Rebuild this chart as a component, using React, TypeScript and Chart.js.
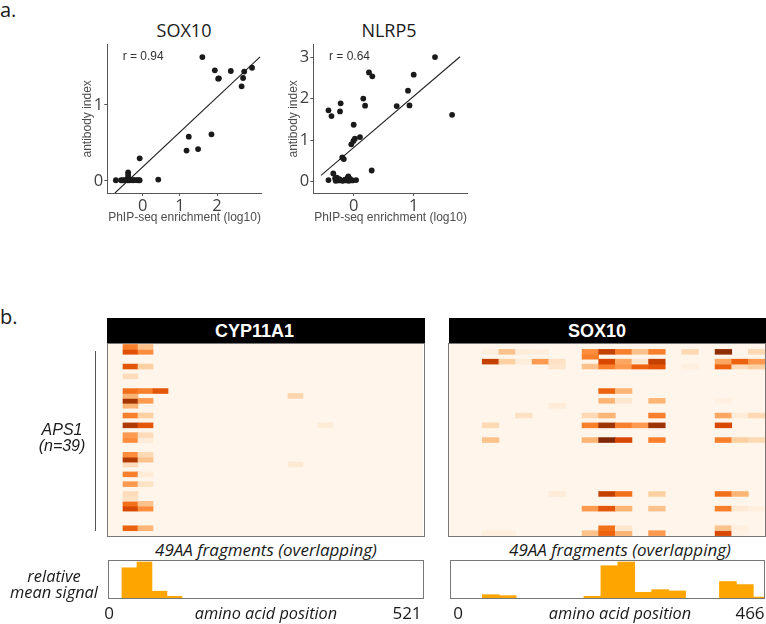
import React, { useEffect, useRef } from "react";
import { Chart, registerables } from "chart.js";

Chart.register(...registerables);

// ---------- scatter data ----------
const sox10Points: number[][] = [
  [1.605, 1.63], [1.94, 1.456], [2.37, 1.447], [2.73, 1.44], [2.94, 1.49], [2.7, 1.355],
  [2.03, 1.346], [2.05, 1.35], [2.66, 1.245], [1.24, 0.583], [1.85, 0.614], [1.18, 0.4],
  [1.49, 0.42], [-0.08, 0.298], [0.42, 0.018], [-0.39, 0.114], [-0.39, 0.08], [-0.39, 0.044],
  [-0.72, 0.01], [-0.58, 0.01], [-0.53, 0.01], [-0.48, 0.01], [-0.44, 0.012], [-0.4, 0.01],
  [-0.38, 0.012], [-0.35, 0.01], [-0.3, 0.012], [-0.26, 0.01], [-0.22, 0.012], [-0.16, 0.012],
  [-0.12, 0.01], [-0.08, 0.01],
];
const sox10Fit: number[][] = [[-0.744, -0.158], [3.157, 1.632]];
const nlrp5Points: number[][] = [
  [1.355, 3.0], [1.0, 2.575], [0.255, 2.63], [0.31, 2.535], [0.905, 2.19], [0.16, 2.0],
  [-0.217, 1.885], [0.19, 1.83], [0.717, 1.82], [0.93, 1.835], [-0.42, 1.717], [-0.228, 1.69],
  [-0.37, 1.58], [1.64, 1.61], [0.0, 1.37], [0.105, 1.075], [0.02, 1.035], [-0.005, 0.98],
  [-0.04, 0.9], [-0.19, 0.585], [-0.165, 0.545], [0.3, 0.27], [-0.42, 0.04], [-0.34, 0.2],
  [-0.31, 0.08], [-0.26, 0.03], [-0.21, 0.03], [-0.145, 0.05], [-0.09, 0.13], [-0.06, 0.07],
  [-0.02, 0.03], [0.04, 0.04], [-0.3, 0.02], [-0.28, 0.1], [-0.24, 0.06], [-0.18, 0.02],
  [-0.12, 0.03], [-0.1, 0.09], [-0.08, 0.02],
];
const nlrp5Fit: number[][] = [[-0.544, 0.152], [1.772, 3.008]];
const sox10XTicks = [0, 1, 2];
const sox10YTicks = [0, 1];
const nlrp5XTicks = [0, 1];
const nlrp5YTicks = [0, 1, 2, 3];

// ---------- heat map data: [row, fragment, signal] ----------
const heatRows = 39;
const cypColumns = 21;
const soxColumns = 19;
const cypCells: number[][] = [
  [0, 1, 0.55], [0, 2, 0.3], [1, 1, 0.72], [1, 2, 0.5], [4, 1, 0.7], [4, 2, 0.25], [6, 1, 0.18],
  [9, 1, 0.6], [9, 2, 0.55], [9, 3, 0.7], [10, 1, 0.35], [10, 12, 0.22], [11, 1, 0.88], [11, 2, 0.45],
  [12, 1, 0.35], [14, 1, 0.55], [14, 2, 0.25], [16, 1, 0.85], [16, 2, 0.7], [16, 14, 0.08],
  [18, 1, 0.45], [18, 2, 0.18], [19, 1, 0.5], [19, 2, 0.08], [22, 1, 0.5], [22, 2, 0.2],
  [23, 1, 0.85], [23, 2, 0.3], [24, 1, 0.18], [24, 12, 0.1], [26, 1, 0.55], [26, 2, 0.08],
  [28, 1, 0.45], [28, 2, 0.15], [30, 1, 0.18], [31, 1, 0.15], [32, 1, 0.6], [32, 2, 0.3],
  [33, 1, 0.75], [33, 2, 0.5], [37, 1, 0.65], [37, 2, 0.35],
];
const soxCells: number[][] = [
  [1, 2, 0.05], [1, 3, 0.3], [1, 4, 0.07], [1, 5, 0.06], [1, 8, 0.5], [1, 9, 0.8], [1, 10, 0.55],
  [1, 11, 0.3], [1, 12, 0.55], [1, 14, 0.2], [1, 16, 0.95], [1, 18, 0.2], [2, 8, 0.55],
  [3, 2, 0.8], [3, 3, 0.25], [3, 4, 0.07], [3, 5, 0.45], [3, 6, 0.15], [3, 9, 0.75], [3, 10, 0.4],
  [3, 11, 0.12], [3, 12, 0.8], [3, 16, 0.4], [3, 17, 0.65], [3, 18, 0.45], [4, 6, 0.13], [4, 8, 0.3],
  [4, 9, 0.55], [4, 10, 0.45], [4, 11, 0.65], [4, 12, 0.7], [4, 14, 0.05], [4, 16, 0.65], [4, 17, 0.18],
  [4, 18, 0.25], [9, 9, 0.65], [9, 10, 0.35], [11, 9, 0.35], [11, 10, 0.12], [11, 12, 0.35], [11, 16, 0.04],
  [12, 6, 0.08], [14, 4, 0.15], [14, 8, 0.2], [14, 9, 0.35], [14, 12, 0.55], [14, 16, 0.4], [14, 17, 0.08],
  [14, 18, 0.2], [16, 2, 0.2], [16, 8, 0.55], [16, 9, 0.9], [16, 10, 0.55], [16, 11, 0.45], [16, 12, 0.9],
  [16, 16, 0.75], [19, 2, 0.3], [19, 8, 0.35], [19, 9, 1.0], [19, 10, 0.75], [19, 12, 0.55], [19, 16, 0.55],
  [19, 17, 0.25], [19, 18, 0.2], [30, 6, 0.08], [30, 9, 0.8], [30, 10, 0.6], [30, 12, 0.25], [30, 16, 0.6],
  [30, 17, 0.35], [33, 8, 0.45], [33, 9, 0.7], [33, 10, 0.35], [33, 12, 0.3], [33, 16, 0.55], [33, 17, 0.1],
  [33, 18, 0.05], [37, 9, 0.6], [37, 10, 0.12], [37, 16, 0.3], [37, 17, 0.05], [38, 2, 0.05], [38, 3, 0.05],
  [38, 8, 0.3], [38, 9, 0.65], [38, 10, 0.35], [38, 12, 0.45], [38, 16, 0.75], [38, 17, 0.03],
];

// ---------- mean signal data ----------
const cypMeanSignal = [0, 0.8, 0.948, 0.2, 0.07, 0, 0, 0, 0, 0, 0, 0, 0, 0, 0, 0, 0, 0, 0, 0, 0];
const soxMeanSignal = [0, 0, 0.11, 0.086, 0.01, 0.01, 0.01, 0.01, 0.07, 0.853, 0.948, 0.172, 0.24, 0.207, 0, 0, 0.448, 0.37, 0.05];

const orangesPalette = ["#fff5eb", "#fee6ce", "#fdd0a2", "#fdae6b", "#fd8d3c", "#f16913", "#d94801", "#a63603", "#7f2704"];

function orangeFor(value: number): string {
  const t = Math.min(1, Math.max(0, value)) * (orangesPalette.length - 1);
  const i = Math.min(orangesPalette.length - 2, Math.floor(t));
  const f = t - i;
  const rgb = (hex: string) => [1, 3, 5].map((p) => parseInt(hex.slice(p, p + 2), 16));
  const a = rgb(orangesPalette[i]);
  const b = rgb(orangesPalette[i + 1]);
  return `rgb(${a.map((v, k) => Math.round(v + (b[k] - v) * f)).join(",")})`;
}

const MYRIAD = '"Open Sans", sans-serif';
const HELV = '"Liberation Sans", Arial, sans-serif';

function ChartBox({ left, top, width, height, make }: { left: number; top: number; width: number; height: number; make: () => any }) {
  const ref = useRef<HTMLCanvasElement>(null);
  useEffect(() => {
    const chart = new Chart(ref.current!, make());
    return () => chart.destroy();
  }, []);
  return <canvas ref={ref} width={width} height={height} style={{ position: "absolute", left, top, width, height, display: "block" }} />;
}

function Label({ text, x, y, size, font = MYRIAD, italic, bold, color = "#1a1a1a", align = "center" }: any) {
  const tx = align === "center" ? "-50%" : align === "right" ? "-100%" : "0";
  return (
    <div style={{ position: "absolute", left: x, top: y, transform: `translate(${tx}, -50%)`, fontFamily: font, fontSize: size, fontStyle: italic ? "italic" : "normal", fontWeight: bold ? 700 : 400, color, whiteSpace: "nowrap", lineHeight: 1 }}>
      {text}
    </div>
  );
}

function scatterConfig(o: { points: number[][]; fit: number[][]; xMin: number; xMax: number; yMin: number; yMax: number; xTicks: number[]; yTicks: number[]; axisW: number; padRight: number }) {
  const tickFont = { family: MYRIAD, size: 16.5 };
  const titleFont = { family: HELV, size: 12 };
  return {
    type: "scatter",
    data: {
      datasets: [
        { data: o.points.map(([x, y]) => ({ x, y })), backgroundColor: "#1a1a1a", borderWidth: 0, pointRadius: 2.9 },
        { data: o.fit.map(([x, y]) => ({ x, y })), showLine: true, borderColor: "#222222", borderWidth: 1.1, pointRadius: 0 },
      ],
    },
    options: {
      responsive: false,
      animation: false,
      layout: { autoPadding: false, padding: { top: 34.7, left: 0, bottom: 0, right: o.padRight } },
      plugins: { legend: { display: false }, tooltip: { enabled: false } },
      scales: {
        x: {
          type: "linear",
          min: o.xMin,
          max: o.xMax,
          afterBuildTicks: (s: any) => { s.ticks = o.xTicks.map((value) => ({ value })); },
          afterFit: (s: any) => { s.height = 33; },
          grid: { drawOnChartArea: false, drawTicks: true, tickLength: 3, tickColor: "#555555" },
          border: { color: "#555555", width: 1 },
          ticks: { font: tickFont, color: "#3f3f3f", padding: 0, maxRotation: 0, autoSkip: false, callback: (v: number) => String(v) },
          title: { display: true, text: "PhIP-seq enrichment (log10)", font: titleFont, color: "#4d4d4d", padding: { top: 0, bottom: 1 } },
        },
        y: {
          type: "linear",
          min: o.yMin,
          max: o.yMax,
          afterBuildTicks: (s: any) => { s.ticks = o.yTicks.map((value) => ({ value })); },
          afterFit: (s: any) => { s.width = o.axisW; },
          grid: { drawOnChartArea: false, drawTicks: true, tickLength: 3, tickColor: "#555555" },
          border: { color: "#555555", width: 1 },
          ticks: { font: tickFont, color: "#3f3f3f", padding: 1, autoSkip: false, callback: (v: number) => String(v) },
          title: { display: true, text: "antibody index", font: titleFont, color: "#4d4d4d", padding: { top: 4, bottom: 0 } },
        },
      },
    },
  };
}

function heatConfig(cells: number[][], columns: number) {
  const labels = Array.from({ length: columns }, (_, i) => String(i));
  const datasets: any[] = [];
  for (let r = 0; r < heatRows; r++) {
    const rowCells = cells.filter((c) => c[0] === r);
    if (!rowCells.length) continue;
    const data: any[] = labels.map(() => null);
    const colors: string[] = labels.map(() => "rgba(0,0,0,0)");
    rowCells.forEach(([row, col, value]) => {
      data[col] = [row, row + 1];
      colors[col] = orangeFor(value);
    });
    datasets.push({ data, backgroundColor: colors, borderWidth: 0, grouped: false, barPercentage: 1, categoryPercentage: 1 });
  }
  return {
    type: "bar",
    data: { labels, datasets },
    options: {
      responsive: false,
      animation: false,
      layout: { autoPadding: false, padding: 0 },
      plugins: { legend: { display: false }, tooltip: { enabled: false } },
      scales: {
        x: { type: "category", display: false },
        y: { type: "linear", display: false, reverse: true, min: -0.1, max: 39.08 },
      },
    },
  };
}

function histConfig(values: number[], xMin: number, xMax: number) {
  return {
    type: "bar",
    data: { datasets: [{ data: values.map((y, x) => ({ x, y })), backgroundColor: "#ffa500", borderWidth: 0, barPercentage: 1, categoryPercentage: 1 }] },
    options: {
      responsive: false,
      animation: false,
      layout: { autoPadding: false, padding: 0 },
      plugins: { legend: { display: false }, tooltip: { enabled: false } },
      scales: {
        x: { type: "linear", display: false, min: xMin, max: xMax, offset: false },
        y: { type: "linear", display: false, min: 0, max: 1 },
      },
    },
  };
}

function Frame({ left, top, width, height, color = "#777777", w = 1.5 }: any) {
  return <div style={{ position: "absolute", left, top, width, height, boxSizing: "border-box", border: `${w}px solid ${color}`, pointerEvents: "none" }} />;
}

function Header({ text, left, width, textLeft }: any) {
  return (
    <div style={{ position: "absolute", left, top: 318, width, height: 25, background: "#000", color: "#fff", fontFamily: HELV, fontWeight: 700, fontSize: 18, lineHeight: "26px", paddingLeft: textLeft - left, boxSizing: "border-box" }}>
      {text}
    </div>
  );
}

export default function App() {
  return (
    <div style={{ position: "absolute", left: 0, top: 0, width: 766, height: 624, overflow: "hidden", background: "#fff" }}>
      <Label text="a." x={0} y={10} size={20} align="left" />
      <Label text="b." x={0} y={317} size={20} align="left" />

      <Label text="SOX10" x={184} y={30} size={18} />
      <Label text="NLRP5" x={389} y={30} size={18} />
      <ChartBox left={76} top={10} width={216} height={216}
        make={() => scatterConfig({ points: sox10Points, fit: sox10Fit, xMin: -0.95, xMax: 3.2, yMin: -0.158, yMax: 1.793, xTicks: sox10XTicks, yTicks: sox10YTicks, axisW: 31.3, padRight: 30.3 })} />
      <ChartBox left={282} top={10} width={214} height={216}
        make={() => scatterConfig({ points: nlrp5Points, fit: nlrp5Fit, xMin: -0.673, xMax: 1.9, yMin: -0.272, yMax: 3.297, xTicks: nlrp5XTicks, yTicks: nlrp5YTicks, axisW: 31.3, padRight: 28.3 })} />
      <Label text="r = 0.94" x={122.7} y={56} size={12} font={HELV} color="#333" align="left" />
      <Label text="r = 0.64" x={329} y={56} size={12} font={HELV} color="#333" align="left" />

      <Header text="CYP11A1" left={107} width={318} textLeft={215} />
      <Header text="SOX10" left={449} width={317} textLeft={568} />
      <div style={{ position: "absolute", left: 108, top: 344, width: 315, height: 192, background: "#fff5eb" }} />
      <div style={{ position: "absolute", left: 449, top: 344, width: 316, height: 192, background: "#fff5eb" }} />
      <ChartBox left={108} top={344} width={315} height={192} make={() => heatConfig(cypCells, cypColumns)} />
      <ChartBox left={449} top={344} width={316} height={192} make={() => heatConfig(soxCells, soxColumns)} />
      <Frame left={107} top={343} width={318} height={194} />
      <Frame left={448} top={343} width={318} height={194} />

      <div style={{ position: "absolute", left: 94.5, top: 350.5, width: 1.5, height: 180, background: "#555" }} />
      <Label text="APS1" x={62} y={430} size={16} font={HELV} italic />
      <Label text="(n=39)" x={62} y={446} size={16} font={HELV} italic />

      <Label text="49AA fragments (overlapping)" x={266} y={549} size={17} italic />
      <Label text="49AA fragments (overlapping)" x={620} y={549} size={17} italic />

      <ChartBox left={108} top={560} width={315} height={39} make={() => histConfig(cypMeanSignal, -0.43, 20.57)} />
      <ChartBox left={450} top={560} width={315} height={39} make={() => histConfig(soxMeanSignal, -0.407, 18.19)} />
      <Frame left={108} top={560} width={316} height={39} w={1} />
      <Frame left={450} top={560} width={315} height={39} w={1} />

      <Label text="relative" x={54} y={576} size={16.4} italic />
      <Label text="mean signal" x={54} y={592} size={16.4} italic />

      <Label text="0" x={109} y={612} size={17} />
      <Label text="amino acid position" x={266} y={613} size={16.3} italic />
      <Label text="521" x={407} y={612} size={17} />
      <Label text="0" x={458} y={612} size={17} />
      <Label text="amino acid position" x={620} y={613} size={16.3} italic />
      <Label text="466" x={750} y={612} size={17} />
    </div>
  );
}
